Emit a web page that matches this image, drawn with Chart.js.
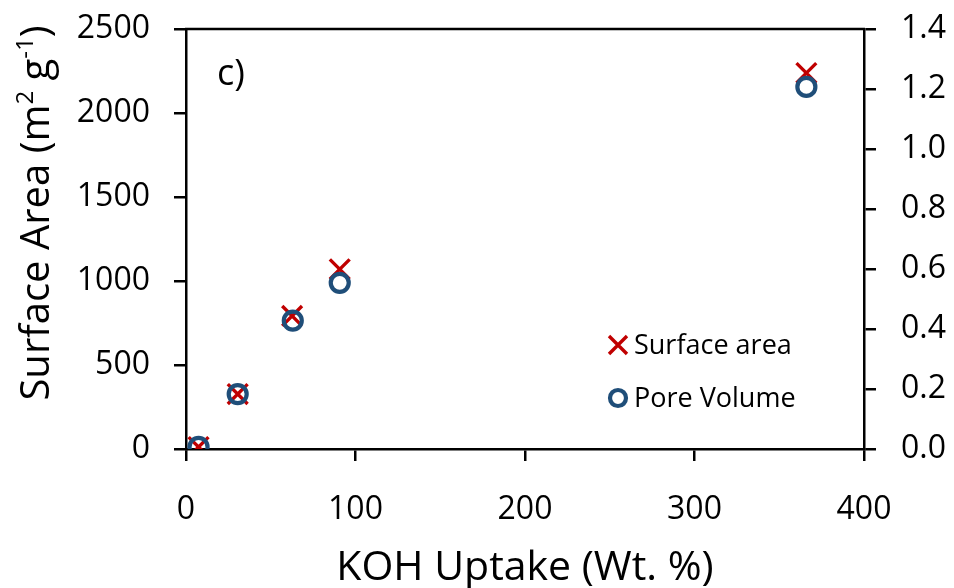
<!DOCTYPE html>
<html><head><meta charset="utf-8">
<script src="https://cdn.jsdelivr.net/npm/chart.js@4/dist/chart.umd.min.js"></script>
<style>html,body{margin:0;padding:0;background:#fff}#wrap{width:954px;height:588px;position:relative}</style>
</head><body><div id="wrap"><canvas id="c" width="954" height="588"></canvas></div>
<script>
// ---- data ----
const xSurface = [7.4, 30.5, 62.6, 90.7, 366];
const surfaceArea = [12, 327, 792, 1070, 2238];
const xPore = [7.4, 30.5, 63, 90.7, 366];
const poreVolume = [0.007, 0.183, 0.428, 0.554, 1.207];
const xTicks = [0, 100, 200, 300, 400];
const yTicks = [0, 500, 1000, 1500, 2000, 2500];
const y1Ticks = [0, 0.2, 0.4, 0.6, 0.8, 1.0, 1.2, 1.4];
const seriesNames = ['Surface area', 'Pore Volume'];
const xTitle = 'KOH Uptake (Wt. %)';
const panelLabel = 'c)';

const FONT = "'Open Sans', sans-serif";
const RED = '#C00000', BLUE = '#1F4E79';

const toPts = (xs, ys) => xs.map((x, i) => ({x, y: ys[i]}));
const axisGrid = {drawOnChartArea: false, drawTicks: true, tickLength: 12, color: '#000', lineWidth: 2.5};
const axisBorder = {display: true, color: '#000', width: 2.5};
const noPad = s => { s.paddingTop = 0; s.paddingBottom = 0; s.paddingLeft = 0; s.paddingRight = 0; };

const extras = {
  id: 'extras',
  afterDraw(chart) {
    const {ctx, chartArea: a} = chart;
    ctx.save();
    ctx.strokeStyle = '#000'; ctx.lineWidth = 2.5;
    ctx.beginPath(); ctx.moveTo(a.left - 1, a.top); ctx.lineTo(a.right + 1, a.top); ctx.stroke();
    ctx.fillStyle = '#000';
    // panel label
    ctx.font = `36px ${FONT}`; ctx.textAlign = 'left'; ctx.textBaseline = 'alphabetic';
    ctx.fillText(panelLabel, a.left + 31, a.top + 56);
    // left axis title with superscripts
    ctx.save();
    ctx.translate(38, 213); ctx.rotate(-Math.PI / 2);
    const big = `40px ${FONT}`, small = `24px ${FONT}`;
    const parts = [['Surface Area (m', big, 0], ['2', small, -15], [' g', big, 0], ['-1', small, -15], [')', big, 0]];
    let total = 0;
    parts.forEach(p => { ctx.font = p[1]; total += ctx.measureText(p[0]).width; });
    let x = -total / 2;
    ctx.textBaseline = 'middle';
    parts.forEach(p => { ctx.font = p[1]; ctx.fillText(p[0], x, 0 + p[2] + (p[1] === small ? 3 : 0)); x += ctx.measureText(p[0]).width; });
    ctx.restore();
    // legend
    const items = [
      {y: a.top + 316, draw: (cx, cy) => { ctx.strokeStyle = RED; ctx.lineWidth = 3.4; ctx.beginPath();
        ctx.moveTo(cx - 9, cy - 9); ctx.lineTo(cx + 9, cy + 9); ctx.moveTo(cx + 9, cy - 9); ctx.lineTo(cx - 9, cy + 9); ctx.stroke(); }},
      {y: a.top + 369, draw: (cx, cy) => { ctx.strokeStyle = BLUE; ctx.lineWidth = 4.2; ctx.beginPath();
        ctx.arc(cx, cy, 8, 0, Math.PI * 2); ctx.stroke(); }}
    ];
    ctx.font = `27px ${FONT}`; ctx.textBaseline = 'middle'; ctx.fillStyle = '#000';
    items.forEach((it, i) => { it.draw(a.left + 432, it.y); ctx.fillText(seriesNames[i], a.left + 448, it.y + 1); });
    ctx.restore();
  }
};

new Chart(document.getElementById('c'), {
  type: 'scatter',
  data: {
    datasets: [
      {label: seriesNames[1], data: toPts(xPore, poreVolume), yAxisID: 'y1', order: 0,
       pointStyle: 'circle', pointRadius: 9, pointBorderWidth: 4.2, borderColor: BLUE, backgroundColor: 'rgba(0,0,0,0)',
       pointBackgroundColor: 'rgba(0,0,0,0)', pointBorderColor: BLUE},
      {label: seriesNames[0], data: toPts(xSurface, surfaceArea), yAxisID: 'y', order: 1,
       pointStyle: 'crossRot', pointRadius: 14, pointBorderWidth: 3.4, borderColor: RED, pointBorderColor: RED}
    ]
  },
  options: {
    responsive: false, animation: false,
    layout: {padding: {top: 29, left: 0, right: 0, bottom: 0}},
    plugins: {legend: {display: false}, tooltip: {enabled: false}},
    scales: {
      x: {type: 'linear', min: 0, max: 400,
          afterBuildTicks: s => { s.ticks = xTicks.map(v => ({value: v})); },
          afterFit: s => { s.height = 139; noPad(s); },
          grid: axisGrid, border: axisBorder,
          ticks: {color: '#000', font: {family: FONT, size: 32}, padding: 30, callback: v => String(v)},
          title: {display: true, text: xTitle, color: '#000', font: {family: FONT, size: 41}, padding: {top: 0, bottom: -5}}},
      y: {type: 'linear', position: 'left', min: 0, max: 2500,
          afterBuildTicks: s => { s.ticks = yTicks.map(v => ({value: v})); },
          afterFit: s => { s.width = 186; noPad(s); },
          grid: axisGrid, border: axisBorder,
          ticks: {color: '#000', font: {family: FONT, size: 32}, padding: 24, callback: v => String(v)}},
      y1: {type: 'linear', position: 'right', min: 0, max: 1.4,
          afterBuildTicks: s => { s.ticks = y1Ticks.map(v => ({value: v})); },
          afterFit: s => { s.width = 90; noPad(s); },
          grid: axisGrid, border: axisBorder,
          ticks: {color: '#000', font: {family: FONT, size: 32}, padding: 25, callback: v => Number(v).toFixed(1)}}
    }
  },
  plugins: [extras]
});
</script>
</body></html>
